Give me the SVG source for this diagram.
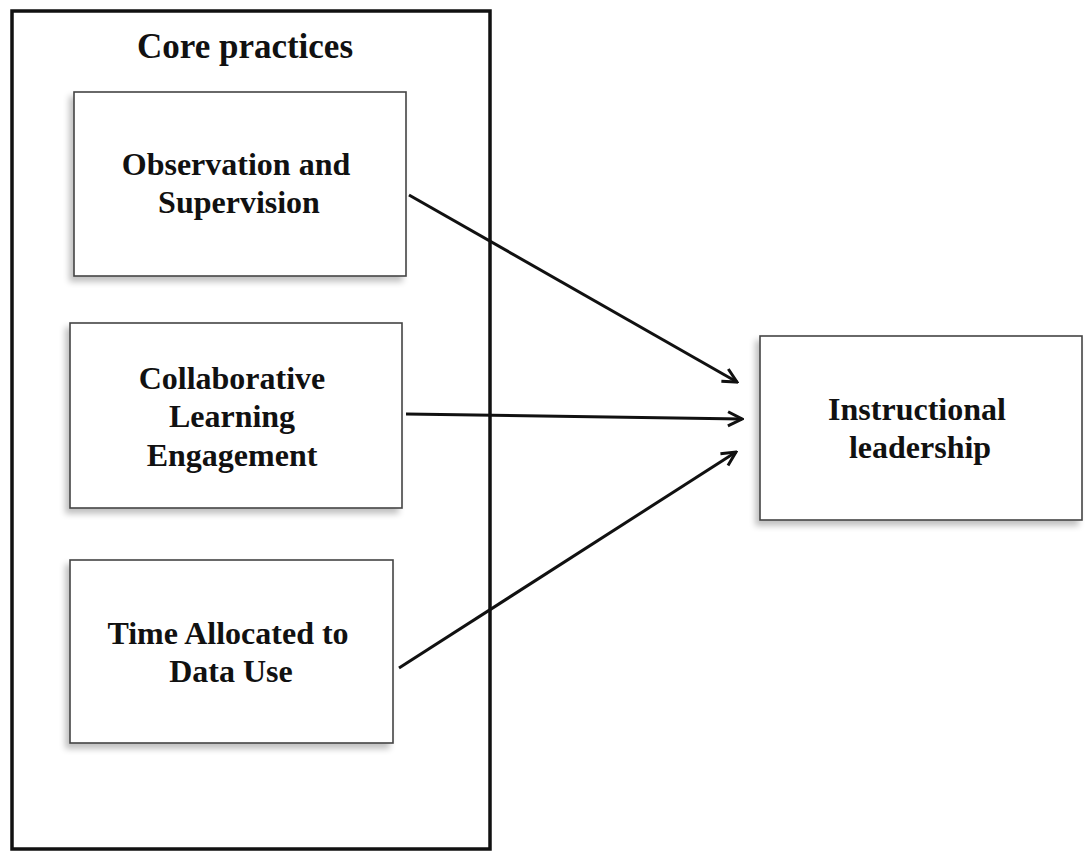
<svg xmlns="http://www.w3.org/2000/svg" width="1089" height="855" viewBox="0 0 1089 855">
<style>
.box{fill:#fff;stroke:#444;stroke-width:1.6;filter:url(#sh)}
.t{font-family:"Liberation Serif","Times New Roman",serif;font-weight:bold;font-size:32px;fill:#111;text-anchor:middle}
.ttl{font-size:35px}
.c{stroke:#111;stroke-width:3;fill:none;marker-end:url(#ah)}
</style>
<defs>
<filter id="sh" x="-10%" y="-10%" width="120%" height="125%">
<feGaussianBlur in="SourceAlpha" stdDeviation="3"/>
<feOffset dx="-4" dy="5" result="b"/>
<feComponentTransfer><feFuncA type="linear" slope="0.25"/></feComponentTransfer>
<feMerge><feMergeNode/><feMergeNode in="SourceGraphic"/></feMerge>
</filter>
<marker id="ah" viewBox="0 0 20 20" refX="18" refY="10" markerWidth="20" markerHeight="20" markerUnits="userSpaceOnUse" orient="auto">
<path d="M4,3 L18,10 L4,17" fill="none" stroke="#111" stroke-width="3"/>
</marker>
</defs>
<g id="core-practices">
<rect x="12" y="11" width="478" height="838" fill="none" stroke="#111" stroke-width="3.5"/>
<text class="t ttl" x="245" y="58">Core practices</text>
</g>
<g id="observation">
<rect class="box" x="74" y="92" width="332" height="184"/>
<text class="t" x="236" y="175">Observation and</text>
<text class="t" x="239" y="213">Supervision</text>
</g>
<g id="collaborative">
<rect class="box" x="70" y="323" width="332" height="185"/>
<text class="t" x="232" y="389">Collaborative</text>
<text class="t" x="232" y="427">Learning</text>
<text class="t" x="232" y="466">Engagement</text>
</g>
<g id="time">
<rect class="box" x="70" y="560" width="323" height="183"/>
<text class="t" x="228" y="644">Time Allocated to</text>
<text class="t" x="231" y="682">Data Use</text>
</g>
<g id="instructional">
<rect class="box" x="760" y="336" width="322" height="184"/>
<text class="t" x="917" y="420">Instructional</text>
<text class="t" x="920" y="458">leadership</text>
</g>
<g id="connectors">
<line class="c" x1="409" y1="195" x2="737" y2="382"/>
<line class="c" x1="406" y1="414" x2="742" y2="419"/>
<line class="c" x1="399" y1="668" x2="736" y2="452"/>
</g>
</svg>
